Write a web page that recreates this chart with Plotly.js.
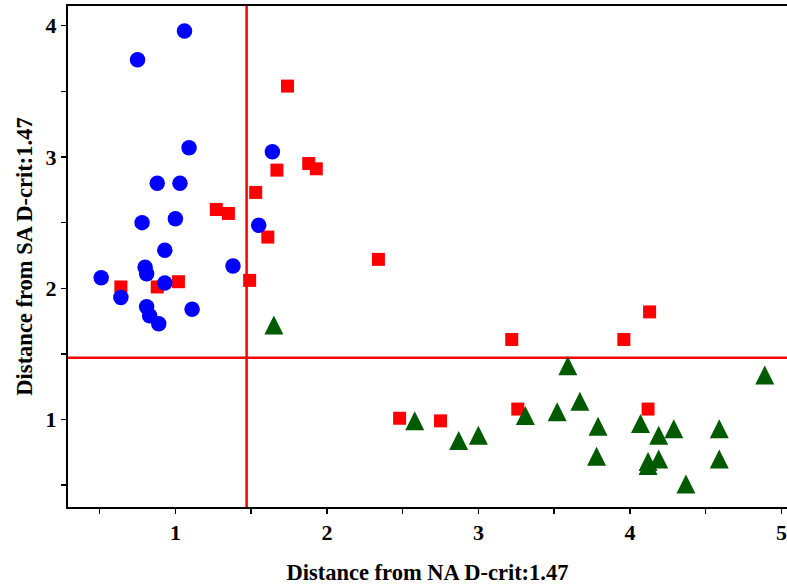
<!DOCTYPE html>
<html>
<head>
<meta charset="utf-8">
<script src="https://cdn.plot.ly/plotly-3.0.1.min.js"></script>
<style>
  html, body { margin: 0; padding: 0; background: #fff; }
  #chart { width: 787px; height: 585px; }
</style>
</head>
<body>
<div id="chart"></div>
<script>
// Distances of each sample from the NA and SA group centroids
const saX = [1.06, 0.75, 1.09, 1.64, 0.88, 1.03, 0.78, 1.00, 1.55, 0.93,
             0.80, 0.81, 1.38, 0.51, 0.93, 0.64, 0.81, 0.83, 0.89, 1.11];
const saY = [3.96, 3.74, 3.07, 3.04, 2.80, 2.80, 2.50, 2.53, 2.48, 2.29,
             2.16, 2.11, 2.17, 2.08, 2.04, 1.93, 1.86, 1.79, 1.73, 1.84];

const mixX = [1.74, 1.67, 1.88, 1.93, 1.53, 1.27, 1.35, 1.61, 2.34, 1.49,
              0.64, 0.88, 1.02, 3.22, 3.96, 4.13, 2.48, 2.75, 3.26, 4.12];
const mixY = [3.54, 2.90, 2.95, 2.91, 2.73, 2.60, 2.57, 2.39, 2.22, 2.06,
              2.01, 2.01, 2.05, 1.61, 1.61, 1.82, 1.01, 0.99, 1.08, 1.08];

const naX = [3.59, 2.58, 2.87, 3.00, 3.31, 3.52, 3.67, 3.79, 3.78, 4.07,
             4.19, 4.29, 4.12, 4.12, 4.19, 4.37, 4.59, 4.59, 4.89, 1.65];
const naY = [1.41, 0.99, 0.84, 0.88, 1.03, 1.06, 1.14, 0.95, 0.72, 0.97,
             0.88, 0.93, 0.68, 0.65, 0.70, 0.51, 0.93, 0.70, 1.34, 1.72];

// Critical distances
const naCrit = 1.47;
const saCrit = 1.47;

// Axis ticks
const xTickVals = [0.5, 1, 1.5, 2, 2.5, 3, 3.5, 4, 4.5, 5];
const xTickText = ['', '1', '', '2', '', '3', '', '4', '', '5'];
const yTickVals = [0.5, 1, 1.5, 2, 2.5, 3, 3.5, 4];
const yTickText = ['', '1', '', '2', '', '3', '', '4'];

const xRange = [0.291, 5.037];
const yRange = [0.334, 4.150];

const GREEN = '#005a00';
const serif = 'Liberation Serif';

const traces = [
  { x: mixX, y: mixY, type: 'scatter', mode: 'markers', name: 'mixed',
    marker: { symbol: 'square', size: 13, color: '#ff0000', line: { width: 0 } } },
  { x: saX, y: saY, type: 'scatter', mode: 'markers', name: 'SA',
    marker: { symbol: 'circle', size: 15.5, color: '#0000ff', line: { width: 0 } } },
  { x: naX, y: naY, type: 'scatter', mode: 'markers', name: 'NA',
    marker: { symbol: 'triangle-up', size: 16, color: GREEN, line: { width: 0 } } }
];

const tickFont = { family: serif, size: 22, color: '#000', weight: 'bold' };
const titleFont = { family: serif, size: 22.5, color: '#000', weight: 'bold' };

const layout = {
  width: 787, height: 585,
  margin: { l: 68, r: 0, t: 6, b: 78 },
  paper_bgcolor: '#fff', plot_bgcolor: '#fff',
  showlegend: false,
  xaxis: {
    range: xRange, showgrid: false, zeroline: false,
    showline: true, linecolor: '#000', linewidth: 2, mirror: true,
    ticks: 'outside', ticklen: 5, tickwidth: 1.5, tickcolor: '#000',
    tickmode: 'array', tickvals: xTickVals, ticktext: xTickText, tickfont: tickFont,
    title: { text: 'Distance from NA D-crit:1.47', font: titleFont, standoff: 22 }
  },
  yaxis: {
    range: yRange, showgrid: false, zeroline: false,
    showline: true, linecolor: '#000', linewidth: 2, mirror: false,
    ticks: 'outside', ticklen: 5, tickwidth: 1.5, tickcolor: '#000',
    tickmode: 'array', tickvals: yTickVals, ticktext: yTickText, tickfont: tickFont,
    title: { text: 'Distance from SA D-crit:1.47', font: titleFont, standoff: 7 }
  },
  shapes: [
    { type: 'line', xref: 'x', yref: 'paper', x0: naCrit, x1: naCrit, y0: 0, y1: 1,
      line: { color: '#ff0000', width: 2.5 }, layer: 'below' },
    { type: 'line', xref: 'paper', yref: 'y', x0: 0, x1: 1, y0: saCrit, y1: saCrit,
      line: { color: '#ff0000', width: 2.5 }, layer: 'below' }
  ]
};

// Taller triangles than the built-in symbol: base and height both 19px
function reshapeTriangles() {
  document.querySelectorAll('#chart .scatterlayer path.point').forEach(function (p) {
    const fill = (p.style.fill || '').replace(/\s/g, '');
    if (fill === 'rgb(0,90,0)') {
      p.setAttribute('d', 'M-9.5,9.5H9.5L0,-9.5Z');
    }
  });
}

Plotly.newPlot('chart', traces, layout, { staticPlot: true, displayModeBar: false })
  .then(function (gd) {
    reshapeTriangles();
    gd.on('plotly_afterplot', reshapeTriangles);
  });
</script>
</body>
</html>
